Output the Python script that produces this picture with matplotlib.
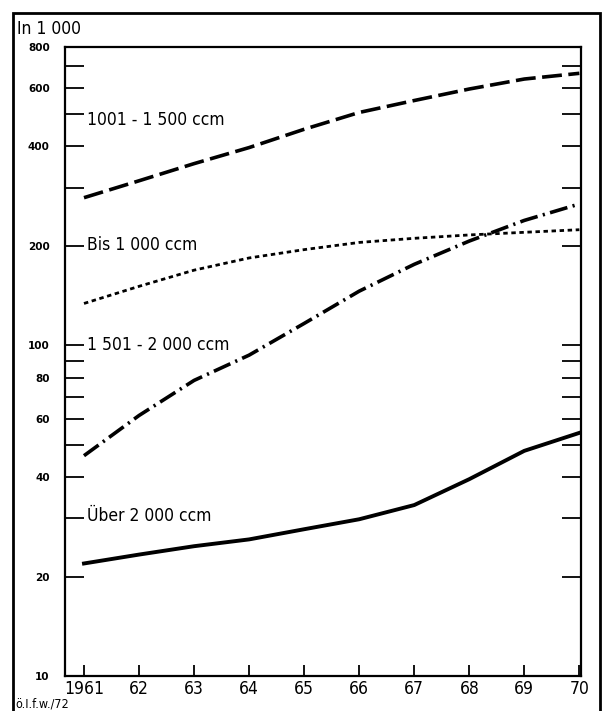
import matplotlib
matplotlib.use("Agg")
import matplotlib.pyplot as plt
from matplotlib.patches import Rectangle
from matplotlib.ticker import FixedLocator, NullFormatter

# Data (in 1000)
years = [1961, 1962, 1963, 1964, 1965, 1966, 1967, 1968, 1969, 1970]
ccm_1001_1500 = [280, 315, 355, 397, 451, 507, 551, 597, 640, 666]
ccm_bis_1000 = [134, 151, 169, 184, 195, 205, 211, 216, 220, 224]
ccm_1501_2000 = [46.4, 61.4, 78.4, 93.5, 116.6, 146, 176, 207, 239, 268]
ccm_ueber_2000 = [21.9, 23.3, 24.7, 25.9, 27.8, 29.8, 32.9, 39.4, 48.0, 54.4]

x_labels = ['1961', '62', '63', '64', '65', '66', '67', '68', '69', '70']
y_major = [10, 20, 40, 60, 80, 100, 200, 400, 600, 800]
y_minor = [30, 50, 70, 90, 300, 500, 700]

series_labels = ['1001 - 1 500 ccm', 'Bis 1 000 ccm', '1 501 - 2 000 ccm', 'Über 2 000 ccm']
label_y = [480, 202, 100, 30.5]

fig = plt.figure(figsize=(6.03, 7.11), dpi=100)
ax = fig.add_axes([65 / 603, 1 - 676 / 711, 516 / 603, 629 / 711])

# Lines
ax.plot(years, ccm_1001_1500, color='black', lw=2.6, dashes=(5.5, 1.8))
ax.plot(years, ccm_bis_1000, color='black', lw=2.0, dashes=(1.6, 1.3))
ax.plot(years, ccm_1501_2000, color='black', lw=2.6, dashes=(5, 1.5, 0.6, 1.5))
ax.plot(years, ccm_ueber_2000, color='black', lw=2.8)

ax.set_yscale('log')
ax.set_ylim(10, 800)
ax.set_xlim(1960.655, 1970.03)

# Y ticks
ax.yaxis.set_major_locator(FixedLocator(y_major))
ax.yaxis.set_minor_locator(FixedLocator(y_minor))
ax.yaxis.set_minor_formatter(NullFormatter())
ax.set_yticklabels([str(v) for v in y_major], fontsize=7.5, fontweight='bold')
ax.tick_params(axis='y', which='both', direction='in', length=14, width=1.3,
               left=True, right=True, pad=11)

# X ticks
ax.set_xticks(years)
ax.set_xticklabels(x_labels, fontsize=12.5, fontstretch='condensed')
ax.tick_params(axis='x', direction='in', length=8, width=1.3, pad=3)

for sp in ax.spines.values():
    sp.set_linewidth(1.6)

# Series labels next to the ticks
for txt, yv in zip(series_labels, label_y):
    ax.text(1960.655 + 0.4, yv, txt, fontsize=12.5, va='center', ha='left',
            fontstretch='condensed')

# Outer frame and small texts
fig.patches.append(Rectangle((13 / 603, -0.01), 587 / 603, 1 - 13 / 711 + 0.01,
                             transform=fig.transFigure, fill=False,
                             edgecolor='black', lw=2))
fig.text(17 / 603, 1 - 29 / 711, 'In 1 000', fontsize=12.5, va='center', ha='left',
         fontstretch='condensed')
fig.text(15 / 603, 1 - 704 / 711, 'ö.I.f.w./72', fontsize=9, va='center', ha='left',
         fontstretch='condensed')

fig.savefig('out.png', dpi=100)
